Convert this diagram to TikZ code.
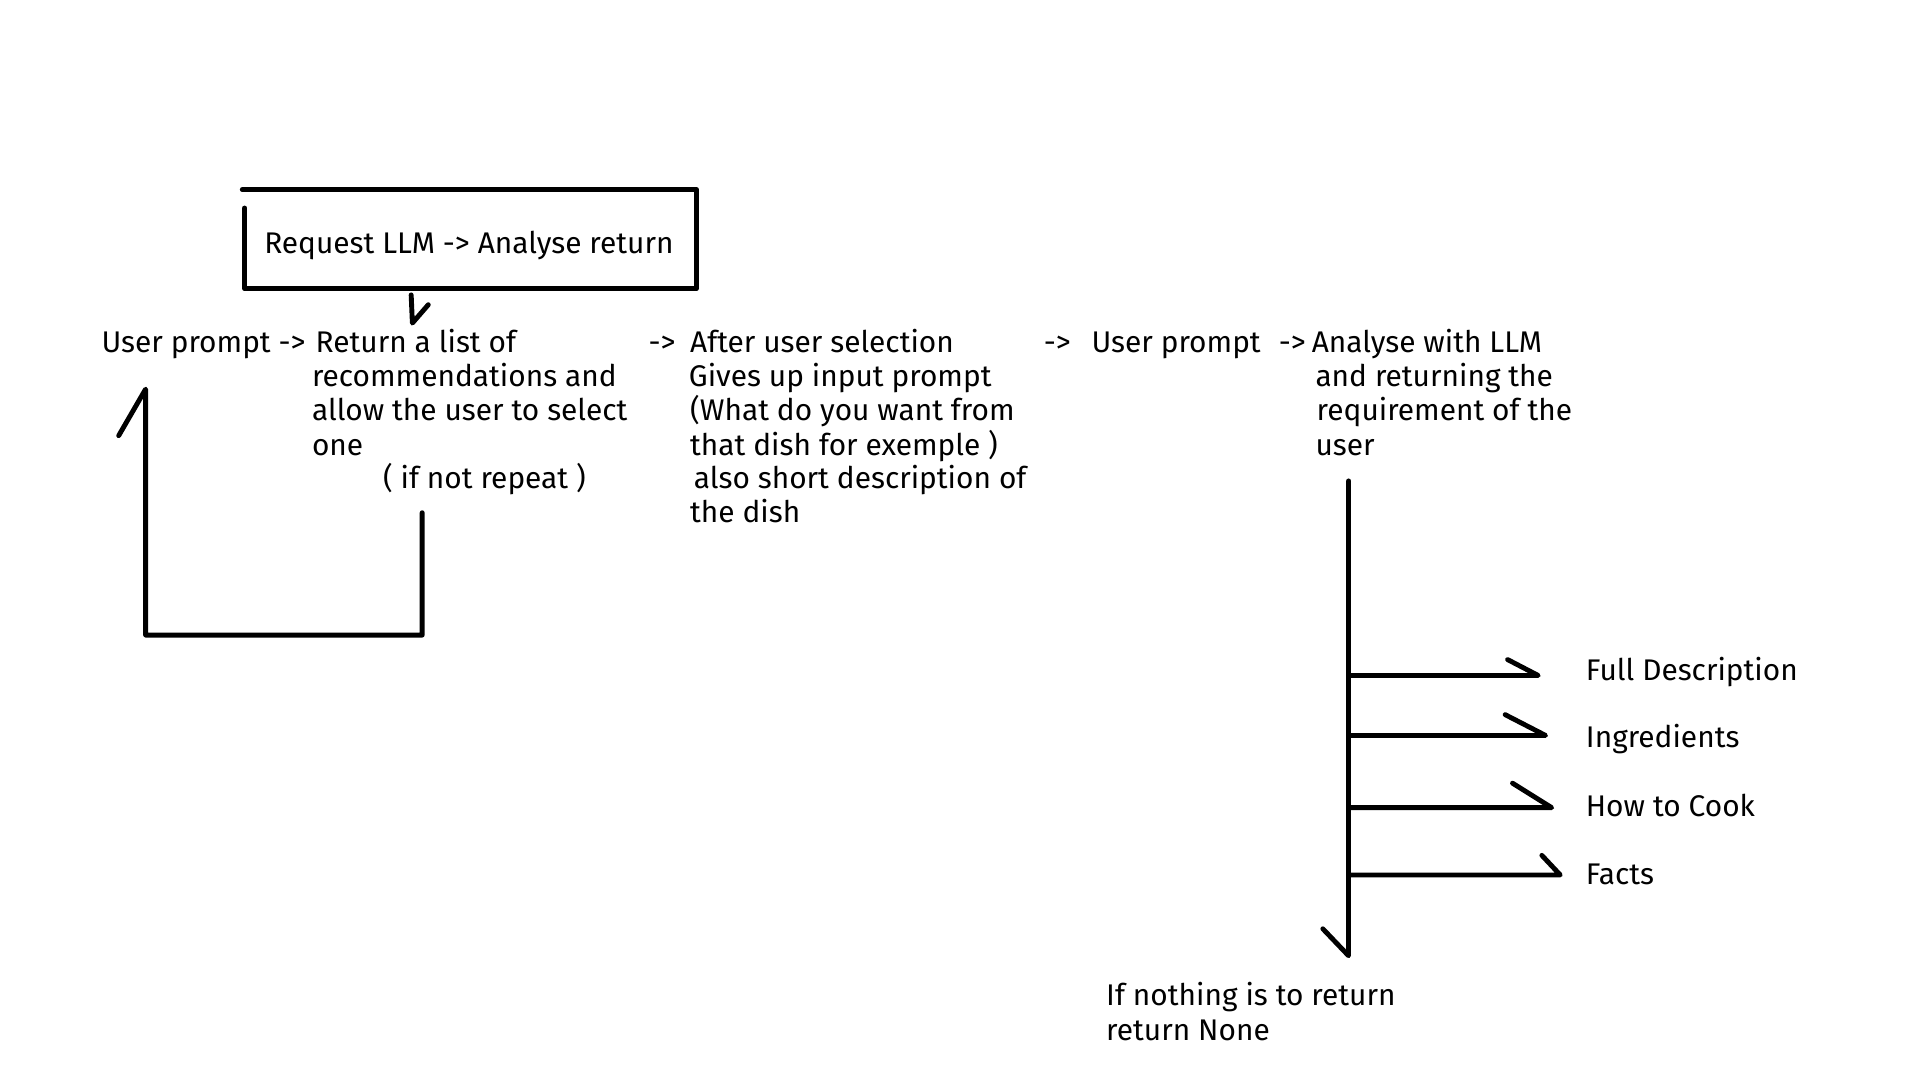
\documentclass[tikz,border=0pt]{standalone}
\usepackage{fontspec}
\setmainfont{Fira Sans}
\begin{document}
\begin{tikzpicture}[x=0.5pt,y=-0.5pt,
  line width=2pt, line cap=round, line join=round,
  txt/.style={inner sep=0pt, anchor=base west, yshift=-2pt, font=\fontsize{12.2}{14}\selectfont}]
\useasboundingbox[fill=white] (0,0) rectangle (1569,882.6);

% top box
\node[txt] (req) at (214,203) {Request LLM -> Analyse return};
\coordinate (boxtl) at (198,155);
\coordinate (boxtr) at (569,155);
\coordinate (boxbr) at (569,236);
\coordinate (boxbl) at (200,236);
\coordinate (boxlt) at (200,170);
\draw (boxtl) -- (boxtr) -- (boxbr) -- (boxbl) -- (boxlt);

% first row
\node[txt] (up1) at (81,284) {User prompt ->};
\node[txt] (ret1) at (256,284) {Return a list of};
\node[txt] (ret2) at (253,312) {recommendations and};
\node[txt] (ret3) at (253,340) {allow the user to select};
\node[txt] (ret4) at (253,368) {one};
\node[txt] (rep) at (311,395) {( if not repeat )};

\node[txt] (ar1) at (528,284) {->};
\node[txt] (aft1) at (562,284) {After user selection};
\node[txt] (aft2) at (561,312) {Gives up input prompt};
\node[txt] (aft3) at (562,340) {(What do you want from};
\node[txt] (aft4) at (562,368) {that dish for exemple )};
\node[txt] (aft5) at (565,395) {also short description of};
\node[txt] (aft6) at (562,423) {the dish};

\node[txt] (ar2) at (851,284) {->};
\node[txt] (up2) at (890,284) {User prompt};
\node[txt] (ar3) at (1043,284) {->};
\node[txt] (an1) at (1070,284) {Analyse with LLM};
\node[txt] (an2) at (1073,312) {and returning the};
\node[txt] (an3) at (1074,340) {requirement of the};
\node[txt] (an4) at (1073,368) {user};

% outputs
\node[txt] (full) at (1294,552) {Full Description};
\node[txt] (ingr) at (1294,607) {Ingredients};
\node[txt] (cook) at (1294,663) {How to Cook};
\node[txt] (facts) at (1294,719) {Facts};
\node[txt] (none1) at (902,818) {If nothing is to return};
\node[txt] (none2) at (902,846) {return None};

% arrow box -> list
\coordinate (a1s) at (336,241);
\coordinate (a1e) at (337,264);
\coordinate (a1t) at (350,249);
\draw (a1s) -- (a1e) -- (a1t);

% loop back
\coordinate (l1) at (345,419);
\coordinate (l2) at (345,519);
\coordinate (l3) at (119,519);
\coordinate (l4) at (119,318);
\coordinate (l5) at (97,356);
\draw (l1) -- (l2) -- (l3) -- (l4) -- (l5);

% main trunk
\coordinate (t1) at (1102,393);
\coordinate (t2) at (1102,781);
\coordinate (t3) at (1081,759);
\draw (t1) -- (t2) -- (t3);

% branches
\draw (1102,552) -- (1257,552) -- (1232,539);
\draw (1102,601) -- (1263,601) -- (1230,584);
\draw (1104,660) -- (1268,660) -- (1236,640);
\draw (1102,715) -- (1275,715) -- (1260,699);
\end{tikzpicture}
\end{document}
